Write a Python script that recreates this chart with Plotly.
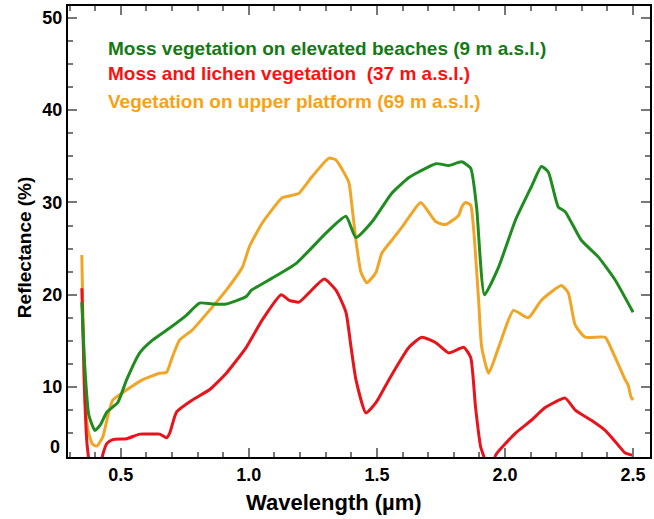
import plotly.graph_objects as go

# Green: Moss vegetation on elevated beaches (9 m a.s.l.)
green_x = [0.348, 0.360, 0.375, 0.399, 0.420, 0.446, 0.488, 0.523, 0.574, 0.625, 0.691, 0.757,
           0.807, 0.858, 0.912, 0.990, 1.010, 1.041, 1.091, 1.185, 1.302, 1.379, 1.418, 1.481,
           1.558, 1.625, 1.663, 1.730, 1.780, 1.831, 1.866, 1.889, 1.920, 1.975, 2.041, 2.103,
           2.142, 2.169, 2.208, 2.235, 2.298, 2.364, 2.430, 2.500]
green_y = [19.2, 12.0, 7.0, 5.3, 5.9, 7.3, 8.3, 10.8, 13.7, 15.1, 16.4, 17.8,
           19.1, 19.0, 19.0, 19.8, 20.5, 21.0, 21.8, 23.4, 26.7, 28.5, 26.2, 27.9,
           31.0, 32.7, 33.3, 34.2, 34.0, 34.4, 33.7, 29.5, 20.0, 23.0, 28.1, 31.7,
           33.9, 33.3, 29.5, 29.0, 25.9, 24.1, 21.6, 18.1]

# Red: Moss and lichen vegetation (37 m a.s.l.)
red_x = [0.348, 0.358, 0.368, 0.380, 0.400, 0.418, 0.430, 0.446, 0.469, 0.523, 0.574, 0.625,
         0.652, 0.679, 0.691, 0.718, 0.780, 0.846, 0.912, 0.990, 1.053, 1.126, 1.158, 1.196,
         1.235, 1.294, 1.340, 1.379, 1.399, 1.418, 1.457, 1.496, 1.547, 1.625, 1.675, 1.730,
         1.780, 1.839, 1.866, 1.885, 1.905, 1.916, 1.935, 1.950, 1.963, 2.041, 2.103, 2.158,
         2.235, 2.274, 2.337, 2.391, 2.442, 2.469, 2.500]
red_y = [20.7, 10.0, 3.9, 1.5, 0.0, 1.0, 2.7, 3.9, 4.3, 4.4, 4.9, 4.9,
         4.9, 4.5, 5.0, 7.3, 8.6, 9.7, 11.5, 14.3, 17.3, 20.0, 19.4, 19.2,
         20.2, 21.7, 20.5, 18.1, 14.3, 10.8, 7.2, 8.3, 10.8, 14.3, 15.4, 14.8,
         13.7, 14.3, 13.2, 7.8, 3.5, 2.6, 0.8, 0.8, 2.6, 5.0, 6.4, 7.8,
         8.8, 7.5, 6.4, 5.3, 3.7, 2.85, 2.6]

# Orange: Vegetation on upper platform (69 m a.s.l.)
orange_x = [0.348, 0.360, 0.372, 0.390, 0.407, 0.430, 0.449, 0.469, 0.508, 0.586, 0.652, 0.679,
            0.702, 0.730, 0.780, 0.846, 0.912, 0.975, 1.002, 1.053, 1.130, 1.158, 1.196, 1.247,
            1.313, 1.340, 1.372, 1.391, 1.403, 1.418, 1.438, 1.461, 1.496, 1.519, 1.558, 1.597,
            1.625, 1.671, 1.730, 1.768, 1.819, 1.831, 1.846, 1.866, 1.877, 1.897, 1.909, 1.936,
            1.975, 2.033, 2.091, 2.142, 2.220, 2.247, 2.274, 2.313, 2.391, 2.414, 2.469, 2.481,
            2.492, 2.500]
orange_y = [24.3, 8.9, 5.3, 3.8, 3.6, 4.6, 6.8, 8.6, 9.4, 10.8, 11.5, 11.6,
            13.3, 15.1, 16.2, 18.3, 20.5, 23.0, 25.2, 27.8, 30.5, 30.7, 31.0, 32.8,
            34.8, 34.6, 33.2, 32.1, 29.5, 25.9, 22.4, 21.3, 22.4, 24.5, 25.9, 27.3,
            28.4, 30.0, 27.9, 27.6, 28.6, 29.5, 30.0, 29.7, 27.3, 19.4, 14.3, 11.5,
            14.3, 18.3, 17.5, 19.4, 21.0, 20.2, 16.7, 15.4, 15.4, 14.2, 10.8, 10.2,
            8.9, 8.6]

y_tick_vals = [10, 20, 30, 40, 50]
x_tick_vals = [0.5, 1.0, 1.5, 2.0, 2.5]
x_tick_text = ["0.5", "1.0", "1.5", "2.0", "2.5"]

labels = [
    ("Moss vegetation on elevated beaches (9 m a.s.l.)", "#157a15"),
    ("Moss and lichen vegetation  (37 m a.s.l.)", "#ff1010"),
    ("Vegetation on upper platform (69 m a.s.l.)", "#f7a214"),
]

FONT = "Liberation Sans, Arial, sans-serif"

fig = go.Figure()
fig.add_trace(go.Scatter(x=orange_x, y=orange_y, mode="lines",
                         line=dict(color="#f0a526", width=3, shape="spline", smoothing=0.5)))
fig.add_trace(go.Scatter(x=red_x, y=red_y, mode="lines",
                         line=dict(color="#e8141c", width=3, shape="spline", smoothing=0.5)))
fig.add_trace(go.Scatter(x=green_x, y=green_y, mode="lines",
                         line=dict(color="#1f8c1f", width=3, shape="spline", smoothing=0.5)))

axis_common = dict(
    showline=True, linecolor="black", linewidth=2, mirror="allticks",
    ticks="inside", tickcolor="#777777", tickwidth=1.5, ticklen=9,
    showgrid=False, zeroline=False,
    tickfont=dict(family=FONT, size=18, color="black", weight="bold"),
)

fig.update_xaxes(range=[0.294, 2.566], tickmode="array", tickvals=x_tick_vals,
                 ticktext=x_tick_text,
                 minor=dict(ticks="inside", dtick=0.1, tick0=0.0, ticklen=5,
                            tickcolor="#777777", tickwidth=1.5),
                 **axis_common)
fig.update_yaxes(range=[2.42, 51.28], tickmode="array", tickvals=y_tick_vals,
                 minor=dict(ticks="inside", dtick=2.5, tick0=0.0, ticklen=5,
                            tickcolor="#777777", tickwidth=1.5),
                 **axis_common)

annotations = []
ys = [48, 73, 101]
for (txt, col), py in zip(labels, ys):
    annotations.append(dict(text=txt, xref="paper", yref="paper",
                            x=(106 - 68) / 584, y=(457 - py) / 451,
                            xanchor="left", yanchor="middle", showarrow=False,
                            font=dict(family=FONT, size=19, color=col, weight="bold")))
annotations.append(dict(text="0", xref="paper", yref="y", x=0, y=3.5,
                        xanchor="right", yanchor="middle", xshift=-6, showarrow=False,
                        font=dict(family=FONT, size=18, color="black", weight="bold")))
annotations.append(dict(text="Wavelength (µm)", xref="paper", yref="paper",
                        x=(335 - 68) / 584, y=(457 - 502) / 451,
                        xanchor="center", yanchor="middle", showarrow=False,
                        font=dict(family=FONT, size=22, color="black", weight="bold")))
annotations.append(dict(text="Reflectance (%)", xref="paper", yref="paper",
                        x=(24 - 68) / 584, y=(457 - 247) / 451, textangle=-90,
                        xanchor="center", yanchor="middle", showarrow=False,
                        font=dict(family=FONT, size=19, color="black", weight="bold")))

fig.update_layout(
    width=654, height=519,
    margin=dict(l=68, r=2, t=6, b=62),
    paper_bgcolor="white", plot_bgcolor="white",
    showlegend=False,
    annotations=annotations,
)

fig.write_html("out.html")
